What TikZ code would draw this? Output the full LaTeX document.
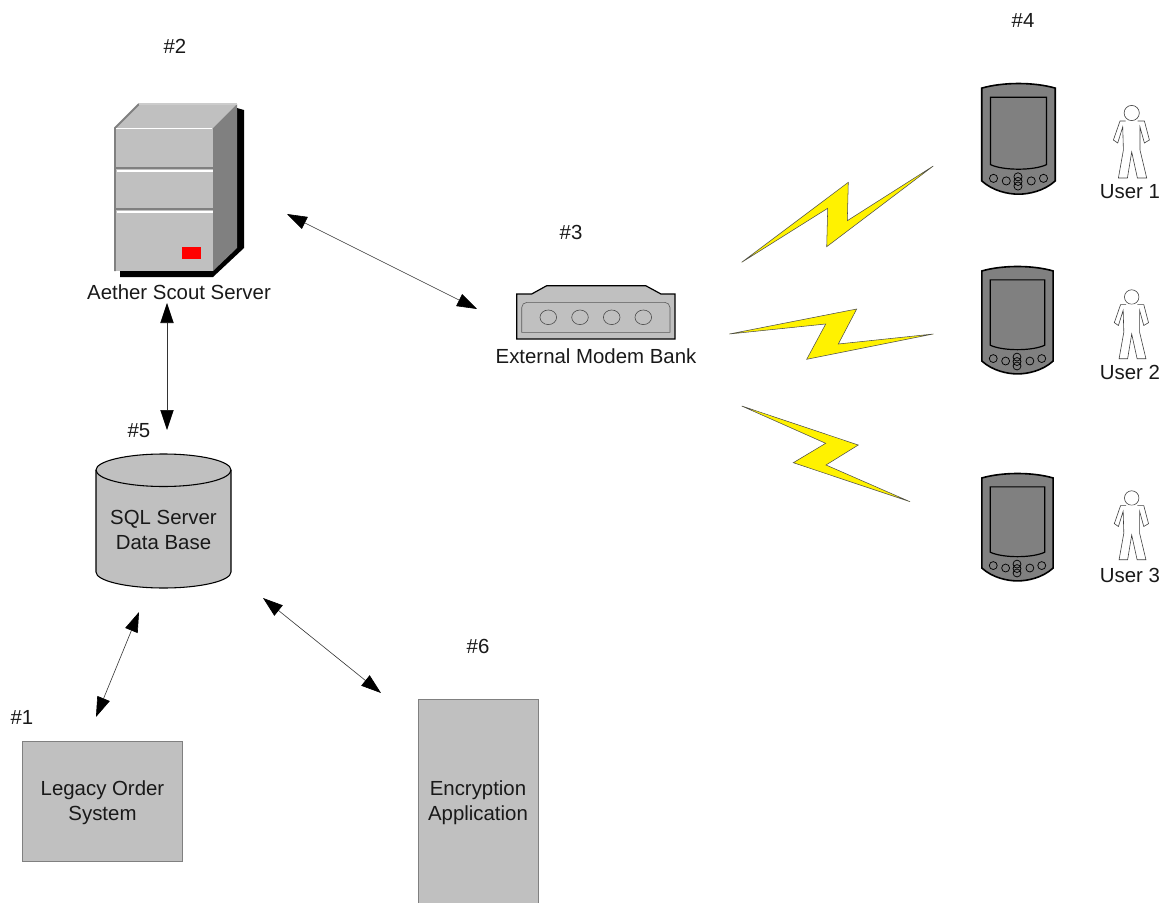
\documentclass[tikz,border=0pt]{standalone}
\usepackage{fontspec}
\setmainfont{Liberation Sans}
\usetikzlibrary{arrows.meta}
\definecolor{boxgray}{HTML}{C0C0C0}
\definecolor{sidegray}{HTML}{808080}
\tikzset{
  every node/.style = {font=\fontsize{15.3}{18.8}\selectfont,align=center,inner sep=0pt,text=black!90},
  link/.style = {line width=0.45pt,draw=black!80,{Triangle[length=15pt,width=10pt,black]}-{Triangle[length=15pt,width=10pt,black]}},
  bolt/.style = {fill=yellow,draw=black!70,line width=0.4pt,line join=miter,miter limit=20},
  graybox/.style = {fill=boxgray,draw=sidegray,line width=0.6pt},
  pda/.pic = {
    \draw[fill=sidegray,line width=1.2pt] (-36,5) .. controls (-15,-1) and (15,-1) .. (36,5)
      -- (36,96) .. controls (25,106) and (10,109) .. (0,109) .. controls (-10,109) and (-25,106) .. (-36,96) -- cycle;
    \draw[fill=sidegray,line width=0.9pt] (-27.5,14) -- (27.5,14) -- (27.5,80)
      .. controls (15,86) and (-15,86) .. (-27.5,80) -- cycle;
    \foreach \bx/\by in {-24.5/93.5,-12/96,12.5/96,24.5/93.5}
      \draw[line width=0.55pt] (\bx,\by) circle (4);
    \foreach \by in {92,96.5,101}
      \draw[line width=0.55pt] (-0.5,\by) circle (4);
  },
  person/.pic = {
    \draw[fill=white,draw=black!75,line width=0.45pt] (0,0) circle (7.6);
    \draw[fill=white,draw=black!75,line width=0.45pt] (-6,8) -- (-11.7,8) -- (-18.3,27) -- (-14,30) -- (-9,14)
      -- (-8.3,37) -- (-13.3,65) -- (-4.3,65) -- (0,39) -- (5.7,65) -- (15,65) -- (8.3,37)
      -- (8.3,14) -- (12.7,30) -- (17.7,27) -- (12.7,8) -- (6,8);
  }
}
\begin{document}
\begin{tikzpicture}[x=0.75pt,y=-0.75pt]
  \useasboundingbox (0,0) rectangle (1165,903);
  % server
  \fill (237,108) -- (244,110) -- (244,248) -- (213,277) -- (120,277) -- (120,268) -- cycle;
  \fill[boxgray] (115,128) rectangle (213,271);
  \fill[boxgray] (115,128) -- (139,104) -- (237,104) -- (213,128) -- cycle;
  \fill[sidegray] (213,128) -- (237,104) -- (237,248) -- (213,271) -- cycle;
  \draw[sidegray,line width=1.4pt] (115,271) -- (115,128) -- (139,104);
  \draw[white!80!black,line width=1pt] (139,104) -- (237,104);
  \draw[white,line width=1.4pt] (116,128.5) -- (212,128.5);
  \foreach \sy in {168,209} {
    \draw[sidegray,line width=1.4pt] (116,\sy) -- (213,\sy);
    \draw[white,line width=1.4pt] (117,\sy+3) -- (213,\sy+3);
  }
  \fill[red] (182,247) rectangle (201,259);
  \node (serverlabel) at (179,292) {Aether Scout Server};
  \node (servertag) at (175,46.5) {\#2};
  % modem
  \draw[fill=boxgray,line width=0.9pt] (516.7,294) -- (531.7,294) -- (546.7,285.7) -- (645.7,285.7)
    -- (661,294) -- (675,294) -- (675,339) -- (516.7,339) -- cycle;
  \draw[sidegray!70!black,line width=0.45pt] (521.7,332.3) [rounded corners=4pt] -- (521.7,302.3) -- (670,302.3) [sharp corners] -- (670,332.3) -- cycle;
  \foreach \mx in {548.3,580,611.7,643.3}
    \draw[sidegray!60!black,line width=0.45pt] (\mx,317.3) ellipse (8.3 and 7.3);
  \node (modemlabel) at (596,356) {External Modem Bank};
  \node (modemtag) at (571,232.5) {\#3};
  % bolts
  \draw[bolt] (741.7,262.3) -- (848.3,182.3) -- (847.3,220.7) -- (933.3,166) -- (826.7,246.7) -- (827.7,208.3) -- cycle;
  \draw[bolt] (729.3,334) -- (856.7,309) -- (838.3,344) -- (933.3,334) -- (806.7,359.3) -- (825.7,324) -- cycle;
  \draw[bolt] (741.7,406) -- (858.3,445) -- (826,465) -- (910,501.7) -- (793.3,462.7) -- (825.7,443.3) -- cycle;
  % handhelds and users
  \foreach \rx/\ry/\rs/\hy/\hs/\ly/\rn in {1018.5/83/1.02/113/1/192/1,1017.5/266/0.99/297/0.95/372.5/2,1017.5/473/0.99/498/0.95/575/3} {
    \pic[scale=\rs] at (\rx,\ry) {pda};
    \pic[scale=\hs] at (1131.7,\hy) {person};
    \node (user\rn) at (1130,\ly) {User \rn};
  }
  \node (pdatag) at (1023,20.5) {\#4};
  % data base
  \draw[fill=boxgray,line width=0.8pt] (96,470) -- (96,572) arc[start angle=180,end angle=0,x radius=67.5,y radius=16]
    -- (231,470) arc[start angle=360,end angle=180,x radius=67.5,y radius=16] -- cycle;
  \draw[line width=0.8pt] (96,470) arc[start angle=180,end angle=0,x radius=67.5,y radius=16.5];
  \node (dblabel) at (163.5,530) {SQL Server\\Data Base};
  \node (dbtag) at (139,430.5) {\#5};
  % boxes
  \node[graybox,minimum width=119.5pt,minimum height=90pt] (legacy) at (102.5,801) {};
  \node (legacytext) at (102.5,802.5) {Legacy Order\\System};
  \node (legacytag) at (22,717.5) {\#1};
  \fill[boxgray] (418,699) rectangle (538.5,903);
  \draw[sidegray,line width=0.6pt] (418,903) -- (418,699) -- (538.5,699) -- (538.5,903);
  \node (crypt) at (478,802.5) {Encryption\\Application};
  \node (crypttag) at (478,646.5) {\#6};
  % links
  \coordinate (serverR) at (287,214);
  \coordinate (modemL) at (477,309);
  \coordinate (serverB) at (167,303);
  \coordinate (dbT) at (167,430);
  \coordinate (dbB) at (139,612);
  \coordinate (legacyT) at (96,717);
  \coordinate (dbR) at (263,598);
  \coordinate (cryptT) at (381,693);
  \draw[link] (serverR) -- (modemL);
  \draw[link] (serverB) -- (dbT);
  \draw[link] (dbB) -- (legacyT);
  \draw[link] (dbR) -- (cryptT);
\end{tikzpicture}
\end{document}
